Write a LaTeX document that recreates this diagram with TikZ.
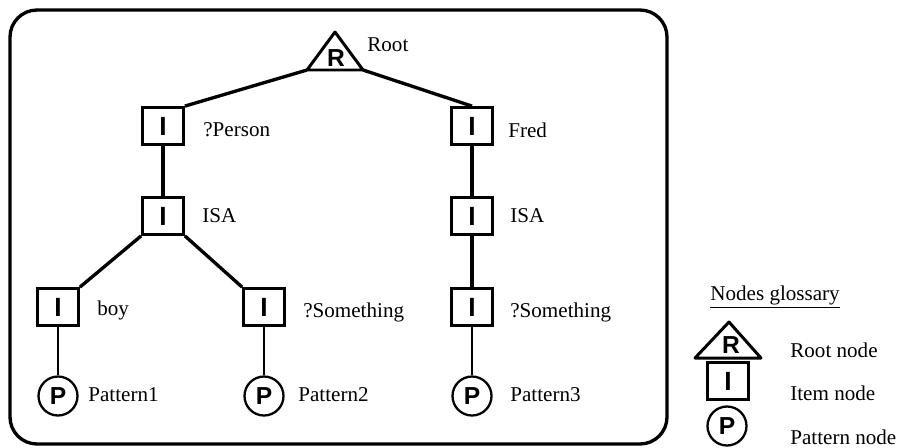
\documentclass[tikz,border=0pt]{standalone}
\usepackage{fontspec}
\setmainfont{Liberation Serif}
\newfontfamily\glyphfont{Liberation Sans}

\begin{document}
\begin{tikzpicture}[x=0.02cm, y=-0.02cm,
	item/.style={draw, line width=1.6pt, minimum width=0.82cm, minimum height=0.74cm, inner sep=0pt, font=\glyphfont\bfseries\fontsize{15}{15}\selectfont},
	pat/.style={draw, circle, line width=1.3pt, minimum size=0.78cm, inner sep=0pt, font=\glyphfont\bfseries\fontsize{14}{14}\selectfont},
	lbl/.style={anchor=west, inner sep=0pt, font=\fontsize{12}{13}\selectfont},
	edge/.style={line width=1.9pt},
	leaf/.style={line width=1.3pt}]
	\useasboundingbox (0,0) rectangle (898,447);

	% frame
	\draw [line width=1.9pt, rounded corners=0.54cm] (10,10) rectangle (667,444);

	% root
	\coordinate (rtop) at (335,32);
	\coordinate (rl) at (307,70);
	\coordinate (rr) at (363,70);
	\draw [line width=1.7pt, line join=round] (rl) -- (rtop) -- (rr) -- cycle;
	\node [font=\glyphfont\bfseries\fontsize{14}{14}\selectfont] (root) at (336,58) {R};
	\node [lbl] (rootlbl) at (367,45) {Root};

	% item nodes
	\node [item] (person) at (163,126) {I};
	\node [item] (fred) at (472,126) {I};
	\node [item] (isaA) at (163,216) {I};
	\node [item] (isaB) at (472,216) {I};
	\node [item] (boy) at (58,307) {I};
	\node [item] (someA) at (264,307) {I};
	\node [item] (someB) at (472,307) {I};

	% pattern nodes
	\node [pat] (patA) at (58,396) {P};
	\node [pat] (patB) at (264,396) {P};
	\node [pat] (patC) at (472,396) {P};

	% labels
	\node [lbl] at (203,130) {?Person};
	\node [lbl] at (508,130) {Fred};
	\node [lbl] at (202,216) {ISA};
	\node [lbl] at (510,216) {ISA};
	\node [lbl] at (97,310) {boy};
	\node [lbl] at (303,312) {?Something};
	\node [lbl] at (510,312) {?Something};
	\node [lbl] at (88,395) {Pattern1};
	\node [lbl] at (298,395) {Pattern2};
	\node [lbl] at (510,395) {Pattern3};

	% edges
	\draw [edge] (rl) -- (person.north east);
	\draw [edge] (rr) -- (fred.north);
	\draw [edge] (person) -- (isaA);
	\draw [edge] (fred) -- (isaB);
	\draw [edge] (isaA.south west) -- (boy.north east);
	\draw [edge] (isaA.south east) -- (someA.north west);
	\draw [edge] (isaB) -- (someB);
	\draw [leaf] (boy) -- (patA);
	\draw [leaf] (someA) -- (patB);
	\draw [leaf] (someB) -- (patC);

	% glossary
	\node [lbl] (gloss) at (710,297) {\underline{Nodes glossary}};
	\coordinate (gtop) at (729,322);
	\coordinate (gl) at (695,358);
	\coordinate (gr) at (761,358);
	\draw [line width=1.7pt, line join=round] (gl) -- (gtop) -- (gr) -- cycle;
	\node [font=\glyphfont\bfseries\fontsize{14}{14}\selectfont] (groot) at (731,345) {R};
	\node [item] (gitem) at (728,381) {I};
	\node [pat] (gpat) at (727,426) {P};
	\node [lbl] at (790,350) {Root node};
	\node [lbl] at (790,393) {Item node};
	\node [lbl] at (790,437) {Pattern node};
\end{tikzpicture}
\end{document}
